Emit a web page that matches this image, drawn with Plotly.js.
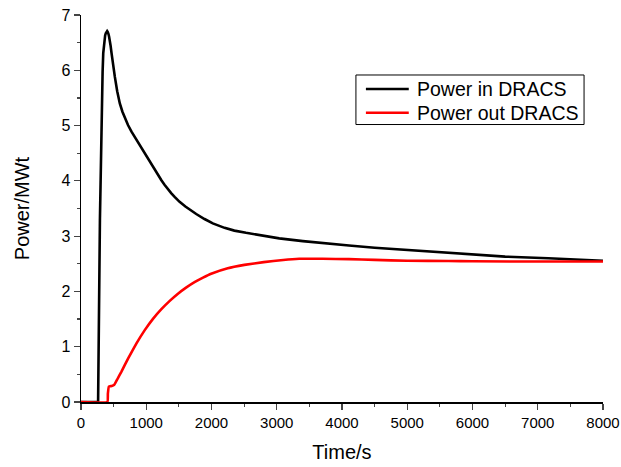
<!DOCTYPE html>
<html>
<head>
<meta charset="utf-8">
<script src="https://cdn.plot.ly/plotly-3.0.1.min.js"></script>
<style>html,body{margin:0;padding:0;background:#fff;}#chart{width:621px;height:467px;}</style>
</head>
<body>
<div id="chart"></div>
<script>
const timeIn = [0, 262, 290, 305, 320, 331, 341, 350, 360, 370, 380, 388, 395, 401, 407, 413, 420, 430, 440, 453, 468, 490, 519, 555, 595, 635, 672, 720, 774, 870, 977, 1100, 1170, 1232, 1280, 1330, 1385, 1435, 1511, 1600, 1690, 1766, 1893, 2020, 2200, 2350, 2529, 2800, 3038, 3400, 3802, 4107, 4500, 5000, 5634, 6000, 6500, 7160, 7500, 8000];
const powerIn = [0, 0, 3.29, 4.6, 5.5, 5.97, 6.31, 6.47, 6.57, 6.63, 6.67, 6.69, 6.7, 6.71, 6.7, 6.69, 6.66, 6.61, 6.55, 6.45, 6.31, 6.1, 5.88, 5.62, 5.4, 5.25, 5.13, 5.01, 4.89, 4.7, 4.5, 4.26, 4.13, 4.01, 3.93, 3.85, 3.775, 3.71, 3.62, 3.535, 3.46, 3.4, 3.31, 3.23, 3.15, 3.1, 3.06, 3.0, 2.96, 2.91, 2.86, 2.83, 2.79, 2.75, 2.69, 2.66, 2.63, 2.6, 2.58, 2.555];
const timeOut = [0, 405, 412, 427, 470, 509, 560, 620, 723, 850, 977, 1100, 1232, 1360, 1486, 1610, 1740, 1870, 1995, 2249, 2504, 2800, 3100, 3344, 3700, 4107, 4500, 5000, 5634, 6000, 7160, 8000];
const powerOut = [0, 0, 0.15, 0.28, 0.29, 0.31, 0.42, 0.55, 0.79, 1.06, 1.3, 1.5, 1.68, 1.83, 1.96, 2.07, 2.17, 2.25, 2.32, 2.42, 2.48, 2.53, 2.57, 2.59, 2.59, 2.585, 2.57, 2.555, 2.55, 2.545, 2.54, 2.54];
const seriesNames = ["Power in DRACS", "Power out DRACS"];
const seriesColors = ["#000000", "#ff0000"];
const xTickVals = [0, 1000, 2000, 3000, 4000, 5000, 6000, 7000, 8000];
const yTickVals = [0, 1, 2, 3, 4, 5, 6, 7];

const font = "Liberation Sans, Arial, sans-serif";
const traces = [
  {x: timeIn, y: powerIn, name: seriesNames[0], mode: "lines", line: {color: seriesColors[0], width: 2.6, shape: "linear"}},
  {x: timeOut, y: powerOut, name: seriesNames[1], mode: "lines", line: {color: seriesColors[1], width: 2.6, shape: "spline", smoothing: 0.3}}
];

// manual legend (box, sample lines, labels) in paper coordinates
const legX0 = 0.5267, legX1 = 0.9637, legY0 = 0.717, legY1 = 0.845;
const rowY = [0.8088, 0.7475];
const shapes = [
  {type: "rect", xref: "paper", yref: "paper", x0: legX0, x1: legX1, y0: legY0, y1: legY1, line: {color: "#000", width: 1}, fillcolor: "#fff", layer: "above"}
];
const annotations = [];
seriesNames.forEach((n, i) => {
  shapes.push({type: "line", xref: "paper", yref: "paper", x0: 0.5458, x1: 0.6279, y0: rowY[i], y1: rowY[i], line: {color: seriesColors[i], width: 2.6}, layer: "above"});
  annotations.push({xref: "paper", yref: "paper", x: 0.6406, y: rowY[i], xanchor: "left", yanchor: "middle", text: n, showarrow: false, font: {size: 19.5, color: "#000"}});
});

const layout = {
  width: 621, height: 467,
  margin: {l: 81, r: 18, t: 15, b: 65},
  paper_bgcolor: "#fff", plot_bgcolor: "#fff",
  font: {family: font, color: "#000", size: 15},
  showlegend: false,
  shapes: shapes,
  annotations: annotations,
  xaxis: {
    range: [0, 8000], tickvals: xTickVals, ticks: "outside", ticklen: 6, tickwidth: 1.2, showgrid: false, zeroline: false,
    showline: true, linecolor: "#000", linewidth: 1.5, tickfont: {size: 15}, ticklabeloverflow: "allow",
    minor: {dtick: 500, ticks: "outside", ticklen: 3, tickwidth: 1.2, showgrid: false},
    title: {text: "Time/s", font: {size: 20}, standoff: 15}, automargin: false
  },
  yaxis: {
    range: [0, 7], tickvals: yTickVals, ticks: "outside", ticklen: 6, tickwidth: 1.2, showgrid: false, zeroline: false,
    showline: true, linecolor: "#000", linewidth: 1.5, tickfont: {size: 16}, ticklabeloverflow: "allow",
    minor: {dtick: 0.5, ticks: "outside", ticklen: 3, tickwidth: 1.2, showgrid: false},
    title: {text: "Power/MWt", font: {size: 20}, standoff: 26}, automargin: false
  }
};
Plotly.newPlot("chart", traces, layout, {displayModeBar: false, staticPlot: true});
</script>
</body>
</html>
